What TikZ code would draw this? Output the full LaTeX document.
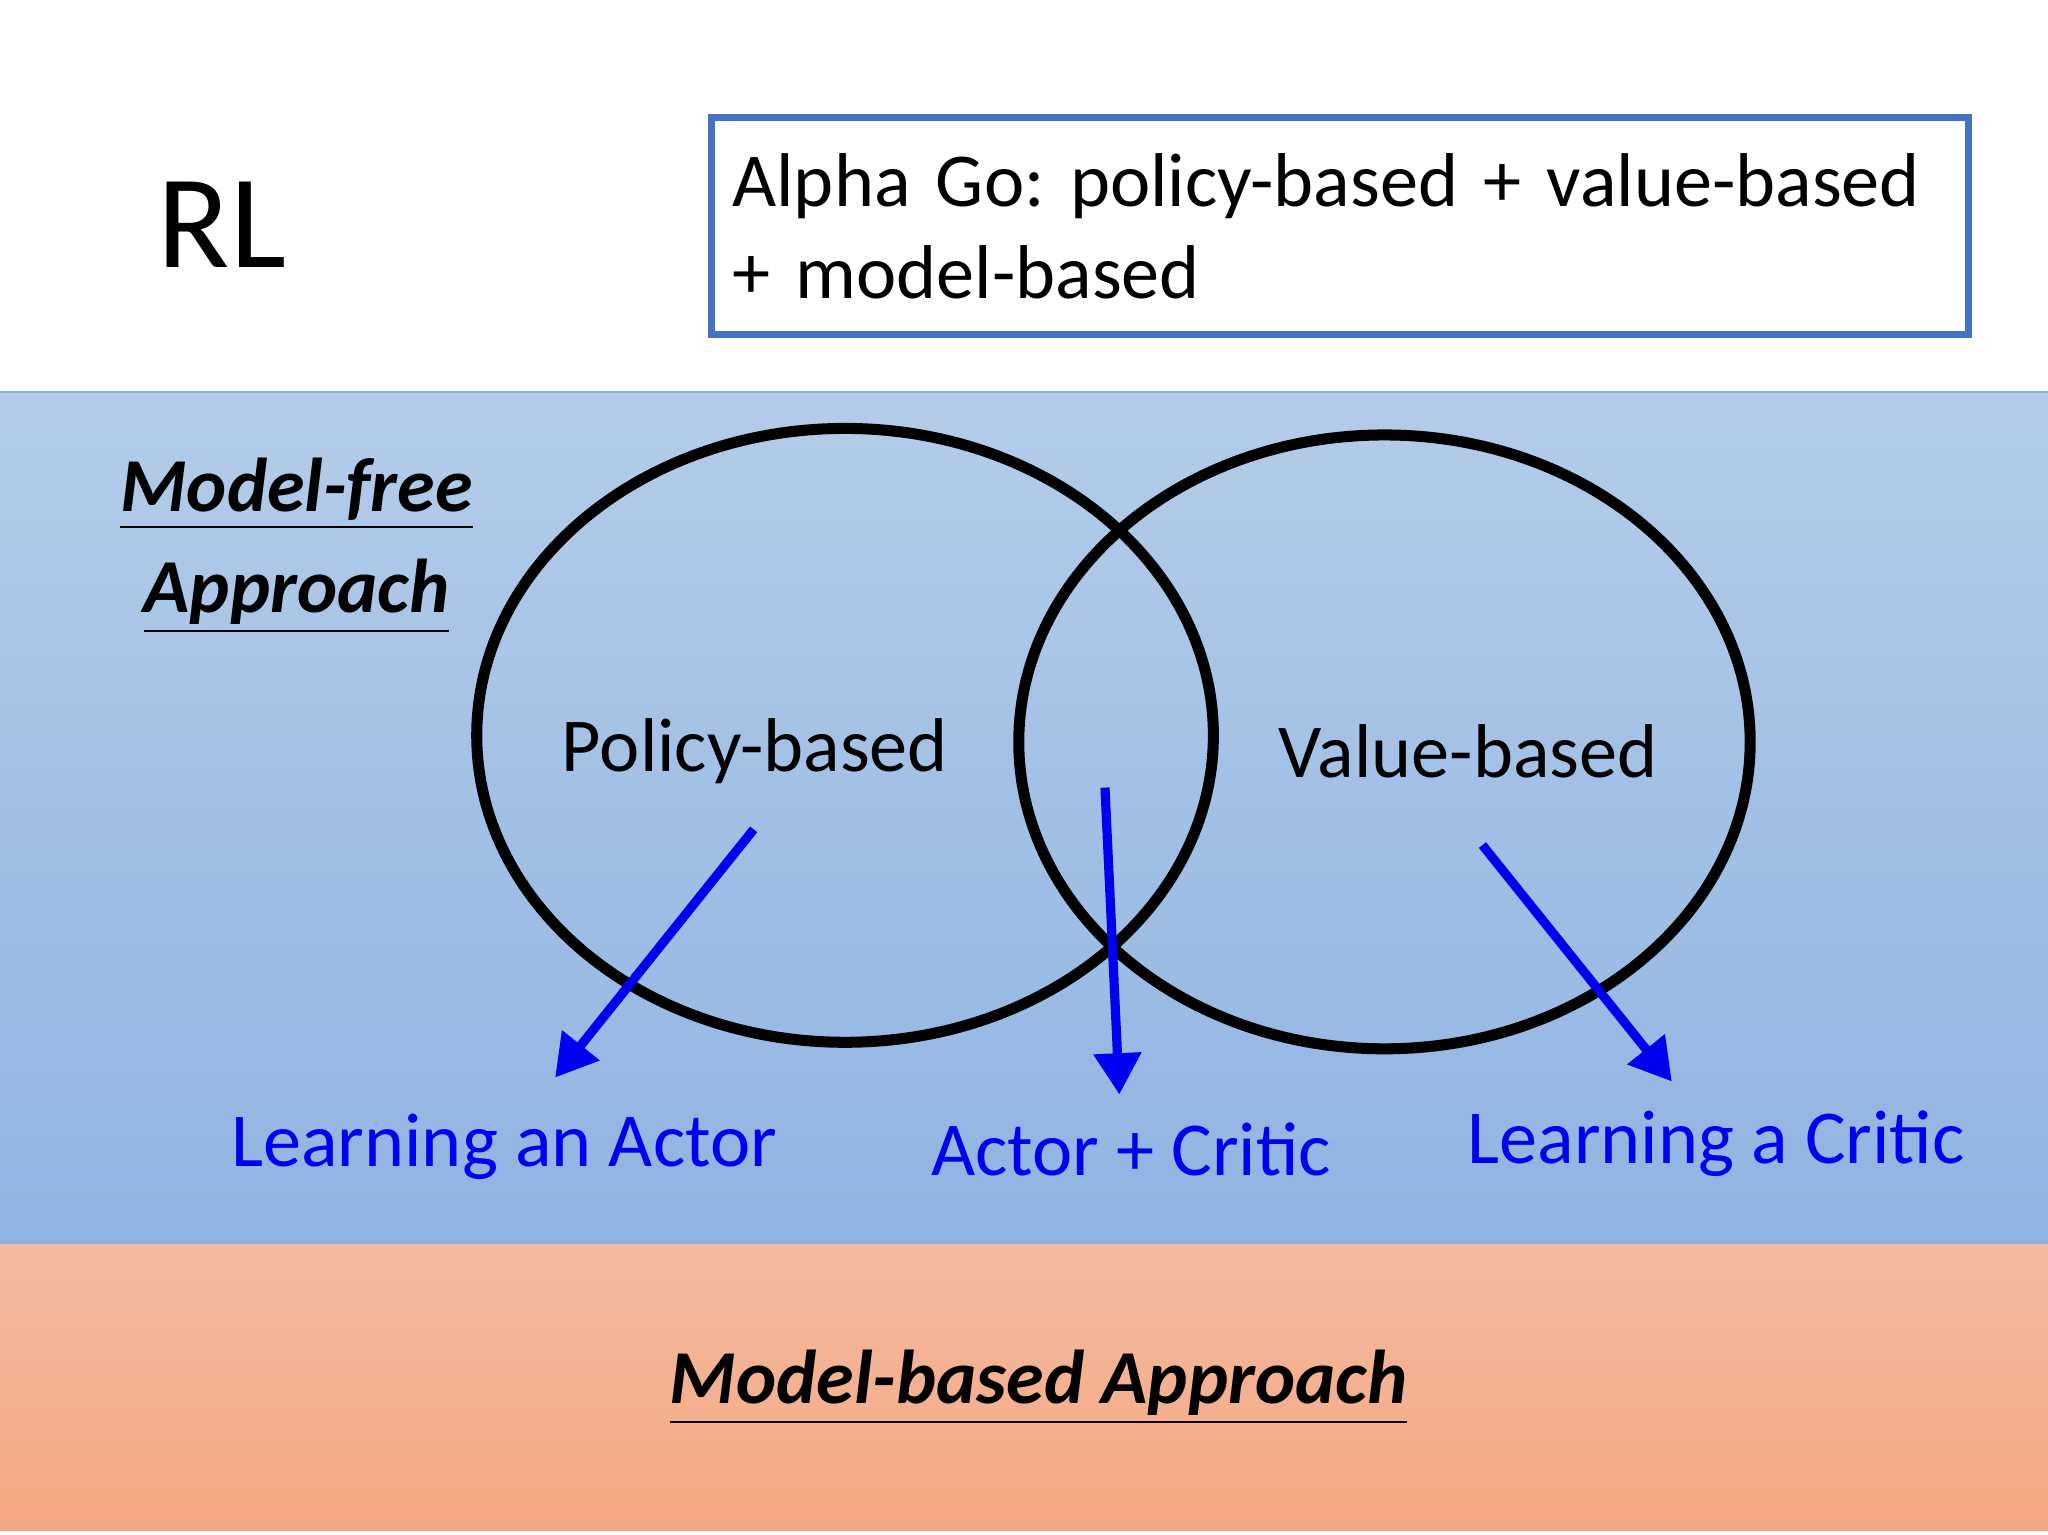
\documentclass[tikz,border=0pt]{standalone}
\usepackage{fontspec}
\setmainfont{Carlito}
\usetikzlibrary{arrows.meta}
\definecolor{boxblue}{HTML}{4472C4}
\definecolor{arrowblue}{HTML}{0000F0}
\newcommand{\uline}[1]{\underline{#1}}
\tikzset{
  big/.style={font=\fontsize{16.6}{20}\selectfont},
  bigbi/.style={font=\fontsize{16.6}{20}\selectfont\bfseries\itshape},
  circ/.style={draw=black, line width=2.4pt},
  arrow/.style={draw=arrowblue, line width=2pt, -{Triangle[length=9pt,width=10pt]}},
  lbl/.style={big, text=arrowblue}
}
\frenchspacing
\begin{document}
\begin{tikzpicture}[x=0.01cm,y=-0.01cm]
\useasboundingbox (0,0) rectangle (1568,1175);
% bands
\shade[top color={rgb,255:red,180;green,204;blue,233}, bottom color={rgb,255:red,143;green,180;blue,226}] (0,300) rectangle (1568,953);
\shade[top color={rgb,255:red,243;green,186;blue,160}, bottom color={rgb,255:red,245;green,168;blue,130}] (0,953) rectangle (1568,1172);
\draw[boxblue!60, line width=0.5pt] (0,300) -- (1568,300);
% title and box
\node (rl) at (170,172) {\fontsize{29}{32}\selectfont RL};
\node (alphago) [draw=boxblue, line width=1.4pt, inner sep=0pt,
  minimum width=9.62cm, minimum height=1.66cm, align=left, big, text width=9.3cm] at (1026,173)
  {Alpha Go: policy-based + value-based\\+ model-based};
% ellipses
\draw[circ] (647,563) ellipse [x radius=282, y radius=235];
\draw[circ] (1060,568) ellipse [x radius=280, y radius=235];
\node (policy) [big] at (578,575) {Policy-based};
\node (value) [big] at (1124,575) {Value-based};
\node (free) [bigbi, align=center] at (227,418) {\uline{Model-free}\\[2pt]\uline{Approach}};
\node (based) [bigbi] at (795,1062) {\uline{Model-based Approach}};
% arrows
\coordinate (pa) at (577,635);
\coordinate (pb) at (425,825);
\coordinate (ca) at (846,603);
\coordinate (cb) at (857,838);
\coordinate (va) at (1135,647);
\coordinate (vb) at (1280,828);
\draw[arrow] (pa) -- (pb);
\draw[arrow] (ca) -- (cb);
\draw[arrow] (va) -- (vb);
\node (actor) [lbl] at (386,878) {Learning an Actor};
\node (ac) [lbl] at (866,880) {Actor + Critic};
\node (critic) [lbl] at (1314,876) {Learning a Critic};
\end{tikzpicture}
\end{document}
